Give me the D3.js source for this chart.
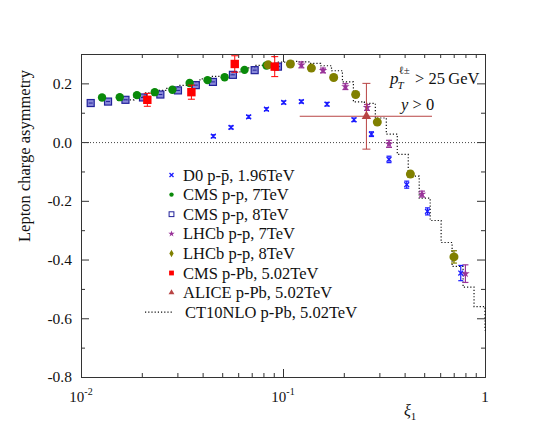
<!DOCTYPE html>
<html>
<head>
<meta charset="utf-8">
<script src="https://cdn.jsdelivr.net/npm/d3@7"></script>
<style>
  body { margin: 0; background: #fff; }
  text { font-family: "Liberation Serif", "Times New Roman", serif; fill: #111; }
</style>
</head>
<body>
<div id="chart"></div>
<script>
// ---- data ----
const d0Xi   = [0.0452, 0.0553, 0.0676, 0.0828, 0.1008, 0.1233, 0.1652, 0.2246, 0.274, 0.3348, 0.4097, 0.519, 0.7586];
const d0Asym = [0.020, 0.050, 0.086, 0.112, 0.135, 0.138, 0.129, 0.076, 0.027, -0.059, -0.145, -0.236, -0.446];
const d0Err  = [0.005, 0.005, 0.005, 0.005, 0.005, 0.005, 0.006, 0.006, 0.008, 0.011, 0.012, 0.012, 0.026];

const cms7Xi   = [0.01271, 0.01555, 0.01892, 0.02318, 0.02834, 0.0345, 0.0423, 0.0514, 0.0645, 0.0828];
const cms7Asym = [0.152, 0.153, 0.160, 0.170, 0.178, 0.201, 0.211, 0.221, 0.246, 0.261];

const cms8Xi   = [0.01117, 0.01361, 0.0166, 0.02027, 0.02471, 0.0302, 0.037, 0.045, 0.0565, 0.0724, 0.0944];
const cms8Asym = [0.133, 0.138, 0.144, 0.152, 0.162, 0.176, 0.194, 0.205, 0.229, 0.245, 0.257];

const lhcb7Xi   = [0.1233, 0.1578, 0.2037, 0.2606, 0.3348, 0.4875, 0.800];
const lhcb7Asym = [0.263, 0.244, 0.189, 0.118, -0.006, -0.177, -0.448];
const lhcb7Err  = [0.010, 0.008, 0.010, 0.010, 0.012, 0.010, 0.030];

const lhcb8Xi   = [0.0845, 0.1088, 0.1382, 0.1782, 0.229, 0.293, 0.4272, 0.702];
const lhcb8Asym = [0.263, 0.266, 0.252, 0.220, 0.162, 0.068, -0.109, -0.391];
const lhcb8Err  = [0.004, 0.004, 0.004, 0.005, 0.005, 0.006, 0.010, 0.021];

const cmsPbXi   = [0.0213, 0.0352, 0.0577, 0.0910];
const cmsPbAsym = [0.144, 0.170, 0.266, 0.257];
const cmsPbErr  = [0.022, 0.024, 0.028, 0.034];

const aliceXi = [0.2588], aliceXiLo = [0.121], aliceXiHi = [0.5465];
const aliceAsym = [0.088], aliceErr = [0.112];

// CT10NLO histogram: bin edges and bin contents
const ct10Edges = [0.0162, 0.0183, 0.0207, 0.0235, 0.0266, 0.0302, 0.0342, 0.0388, 0.0439, 0.0498,
  0.0564, 0.0639, 0.0724, 0.0821, 0.0930, 0.1054, 0.1194, 0.1353, 0.1534, 0.1738,
  0.1969, 0.2231, 0.2528, 0.2865, 0.3247, 0.3679, 0.4169, 0.4724, 0.5353, 0.6065,
  0.6873, 0.7788, 0.8825, 1.0, 1.1331];
const ct10Asym = [0.144, 0.156, 0.168, 0.176, 0.183, 0.193, 0.204, 0.215, 0.224, 0.229,
  0.239, 0.253, 0.261, 0.267, 0.272, 0.275, 0.273, 0.268, 0.260, 0.243,
  0.205, 0.137, 0.132, 0.082, 0.027, -0.042, -0.116, -0.191, -0.267, -0.342,
  -0.4235, -0.494, -0.560, -0.640];

const yMajorTicks = [-0.8, -0.6, -0.4, -0.2, 0.0, 0.2];
const yMinorTicks = [-0.7, -0.5, -0.3, -0.1, 0.1];
const xMajorTicks = [0.01, 0.1, 1];
const xMinorTicks = [0.02, 0.03, 0.04, 0.05, 0.06, 0.07, 0.08, 0.09, 0.2, 0.3, 0.4, 0.5, 0.6, 0.7, 0.8, 0.9];
const xTickLabels = [['10', '-2'], ['10', '-1'], ['1', '']];

const legendLabels = ['D0 p-p\u0304, 1.96TeV', 'CMS p-p, 7TeV', 'CMS p-p, 8TeV', 'LHCb p-p, 7TeV',
  'LHCb p-p, 8TeV', 'CMS p-Pb, 5.02TeV', 'ALICE p-Pb, 5.02TeV', 'CT10NLO p-Pb, 5.02TeV'];

// ---- layout ----
const W = 540, H = 432;
const margin = {top: 54, right: 55, bottom: 55, left: 81};
const width = W - margin.left - margin.right;
const height = H - margin.top - margin.bottom;

const BLUE = '#1a1aff', GREEN = '#0a8a0a', NAVY = '#22229a', PURPLE = '#993399',
      OLIVE = '#808000', RED = '#ff0000', ALICE = '#b84444';

const x = d3.scaleLog().domain([0.01, 1]).range([0, width]);
const y = d3.scaleLinear().domain([-0.8, 0.3]).range([height, 0]);

const svg = d3.select('#chart').append('svg').attr('width', W).attr('height', H);
const g = svg.append('g').attr('transform', `translate(${margin.left},${margin.top})`);

// axes, ticks pointing inward on all four sides
const fmt = d => d.toFixed(1);
g.append('g').attr('transform', `translate(0,${height})`)
  .call(d3.axisBottom(x).tickValues(xMajorTicks).tickSize(-8).tickSizeOuter(0).tickFormat(''));
g.append('g').attr('transform', `translate(0,${height})`)
  .call(d3.axisBottom(x).tickValues(xMinorTicks).tickSize(-4).tickSizeOuter(0).tickFormat(''));
g.append('g')
  .call(d3.axisTop(x).tickValues(xMajorTicks).tickSize(-8).tickSizeOuter(0).tickFormat(''));
g.append('g')
  .call(d3.axisTop(x).tickValues(xMinorTicks).tickSize(-4).tickSizeOuter(0).tickFormat(''));
g.append('g').attr('class', 'y-left')
  .call(d3.axisLeft(y).tickValues(yMajorTicks).tickSize(-8).tickSizeOuter(0).tickPadding(9).tickFormat(fmt));
g.append('g')
  .call(d3.axisLeft(y).tickValues(yMinorTicks).tickSize(-4).tickSizeOuter(0).tickFormat(''));
g.append('g').attr('transform', `translate(${width},0)`)
  .call(d3.axisRight(y).tickValues(yMajorTicks).tickSize(-8).tickSizeOuter(0).tickFormat(''));
g.append('g').attr('transform', `translate(${width},0)`)
  .call(d3.axisRight(y).tickValues(yMinorTicks).tickSize(-4).tickSizeOuter(0).tickFormat(''));

g.selectAll('.domain').attr('stroke', '#333');
g.selectAll('.tick line').attr('stroke', '#333');
g.selectAll('.y-left .tick text').attr('font-size', 15.5).attr('font-family', 'Liberation Serif').attr('fill', '#111');

// x tick labels with exponents
xMajorTicks.forEach((v, i) => {
  const t = g.append('text').attr('x', x(v)).attr('y', height + 25)
    .attr('text-anchor', 'middle').attr('font-size', 15);
  t.append('tspan').text(xTickLabels[i][0]);
  if (xTickLabels[i][1]) t.append('tspan').attr('font-size', 10).attr('dy', -7).text(xTickLabels[i][1]);
});

// axis titles
svg.append('text').attr('transform', 'translate(30,156) rotate(-90)')
  .attr('text-anchor', 'middle').attr('font-size', 16.5).text('Lepton charge asymmetry');
const xt = svg.append('text').attr('x', 404).attr('y', 416).attr('font-size', 16);
xt.append('tspan').attr('font-style', 'italic').text('\u03BE');
xt.append('tspan').attr('font-size', 11).attr('dy', 4).text('1');

// zero line
g.append('line').attr('x1', 0).attr('x2', width).attr('y1', y(0) + 0.5).attr('y2', y(0) + 0.5)
  .attr('stroke', '#444').attr('stroke-dasharray', '1,2');

// plot area
svg.append('clipPath').attr('id', 'plot-clip').append('rect')
  .attr('x', 0).attr('y', 0).attr('width', width + 1).attr('height', height + 1);
const plot = g.append('g').attr('clip-path', 'url(#plot-clip)');

// CT10NLO step line
const stepPts = ct10Edges.map((e, i) => [e, ct10Asym[Math.min(i, ct10Asym.length - 1)]]);
plot.append('path').datum(stepPts)
  .attr('fill', 'none').attr('stroke', '#111').attr('stroke-width', 1.2).attr('stroke-dasharray', '1.2,2')
  .attr('d', d3.line().x(d => x(d[0])).y(d => y(d[1])).curve(d3.curveStepAfter));

function errorBars(xs, ys, errs, color, capW, sw) {
  xs.forEach((v, i) => {
    const cx = x(v), y1 = y(ys[i] + errs[i]), y2 = y(ys[i] - errs[i]);
    const eb = plot.append('g').attr('stroke', color).attr('stroke-width', sw || 1.2);
    eb.append('line').attr('x1', cx).attr('x2', cx).attr('y1', y1).attr('y2', y2);
    eb.append('line').attr('x1', cx - capW / 2).attr('x2', cx + capW / 2).attr('y1', y1).attr('y2', y1);
    eb.append('line').attr('x1', cx - capW / 2).attr('x2', cx + capW / 2).attr('y1', y2).attr('y2', y2);
  });
}

// marker drawers, used for plot and legend
const markers = {
  d0: (sel, s) => {
    sel.append('path').attr('d', `M${-s},${-s}L${s},${s}M${-s},${s}L${s},${-s}`)
      .attr('stroke', BLUE).attr('stroke-width', 1.3).attr('fill', 'none');
  },
  cms7: (sel, s) => sel.append('circle').attr('r', s).attr('fill', GREEN),
  cms8: (sel, s) => {
    sel.append('rect').attr('x', -s).attr('y', -s).attr('width', 2 * s).attr('height', 2 * s)
      .attr('fill', '#6a6ad0').attr('fill-opacity', 0.8).attr('stroke', NAVY).attr('stroke-width', 1.2);
    sel.append('line').attr('x1', -s + 1.5).attr('x2', s - 1.5).attr('stroke', NAVY).attr('stroke-width', 1);
  },
  cms8Legend: (sel, s) => sel.append('rect').attr('x', -s).attr('y', -s).attr('width', 2 * s).attr('height', 2 * s)
      .attr('fill', 'none').attr('stroke', NAVY).attr('stroke-width', 1),
  lhcb7: (sel, s) => sel.append('path').attr('d', d3.symbol().type(d3.symbolStar).size(s * s * 2.2)).attr('fill', PURPLE),
  lhcb8: (sel, s) => sel.append('circle').attr('r', s).attr('fill', OLIVE),
  lhcb8Legend: (sel, s) => sel.append('path').attr('d', d3.symbol().type(d3.symbolDiamond).size(s * s * 2.4)).attr('fill', OLIVE),
  cmsPb: (sel, s) => sel.append('rect').attr('x', -s).attr('y', -s).attr('width', 2 * s).attr('height', 2 * s).attr('fill', RED),
  alice: (sel, s) => sel.append('path').attr('d', d3.symbol().type(d3.symbolTriangle).size(s * s * 2.2)).attr('fill', ALICE)
};

function drawPoints(xs, ys, marker, s) {
  xs.forEach((v, i) => {
    const m = plot.append('g').attr('transform', `translate(${x(v)},${y(ys[i])})`);
    markers[marker](m, s);
  });
}

// CMS p-p 8TeV
drawPoints(cms8Xi, cms8Asym, 'cms8', 3.5);
// CMS p-p 7TeV
drawPoints(cms7Xi, cms7Asym, 'cms7', 4.2);
// LHCb 8TeV
errorBars(lhcb8Xi, lhcb8Asym, lhcb8Err, OLIVE, 6);
drawPoints(lhcb8Xi, lhcb8Asym, 'lhcb8', 4.5);
// LHCb 7TeV
errorBars(lhcb7Xi, lhcb7Asym, lhcb7Err, PURPLE, 6);
drawPoints(lhcb7Xi, lhcb7Asym, 'lhcb7', 3.2);
// D0
errorBars(d0Xi, d0Asym, d0Err, BLUE, 5);
drawPoints(d0Xi, d0Asym, 'd0', 2.4);
// CMS p-Pb
errorBars(cmsPbXi, cmsPbAsym, cmsPbErr, RED, 7, 1);
drawPoints(cmsPbXi, cmsPbAsym, 'cmsPb', 4.2);
// ALICE p-Pb
aliceXi.forEach((v, i) => {
  plot.append('line').attr('x1', x(aliceXiLo[i])).attr('x2', x(aliceXiHi[i]))
    .attr('y1', y(aliceAsym[i])).attr('y2', y(aliceAsym[i]))
    .attr('stroke', ALICE).attr('stroke-width', 1);
});
errorBars(aliceXi, aliceAsym, aliceErr, ALICE, 8, 1);
drawPoints(aliceXi, aliceAsym, 'alice', 4.2);

// annotations
const pt = svg.append('g');
pt.append('text').attr('x', 390).attr('y', 84).attr('font-size', 17).attr('font-style', 'italic').text('p');
pt.append('text').attr('x', 398.5).attr('y', 74).attr('font-size', 11).text('\u2113\u00B1');
pt.append('text').attr('x', 397.5).attr('y', 89).attr('font-size', 11).attr('font-style', 'italic').text('T');
pt.append('text').attr('x', 415).attr('y', 84).attr('font-size', 16.5).text('> 25\u2009GeV');
const yc = svg.append('text').attr('x', 401).attr('y', 110).attr('font-size', 16.5);
yc.append('tspan').attr('font-style', 'italic').text('y');
yc.append('tspan').text(' > 0');

// legend
const legendKeys = ['d0', 'cms7', 'cms8Legend', 'lhcb7', 'lhcb8Legend', 'cmsPb', 'alice', 'ct10'];
const legendSizes = [2, 2.2, 2.4, 2.4, 2.6, 2.4, 2.6, 0];
const legend = svg.append('g');
legendLabels.forEach((label, i) => {
  const cy = 175 + i * 19.6;
  if (legendKeys[i] === 'ct10') {
    legend.append('line').attr('x1', 145).attr('x2', 173).attr('y1', cy).attr('y2', cy)
      .attr('stroke', '#111').attr('stroke-width', 1.2).attr('stroke-dasharray', '1.2,2');
  } else {
    const m = legend.append('g').attr('transform', `translate(171.5,${cy})`);
    markers[legendKeys[i]](m, legendSizes[i]);
  }
  legend.append('text').attr('x', i === 7 ? 185 : 183).attr('y', cy + 5.5)
    .attr('font-size', 16.5).text(label);
});
</script>
</body>
</html>
